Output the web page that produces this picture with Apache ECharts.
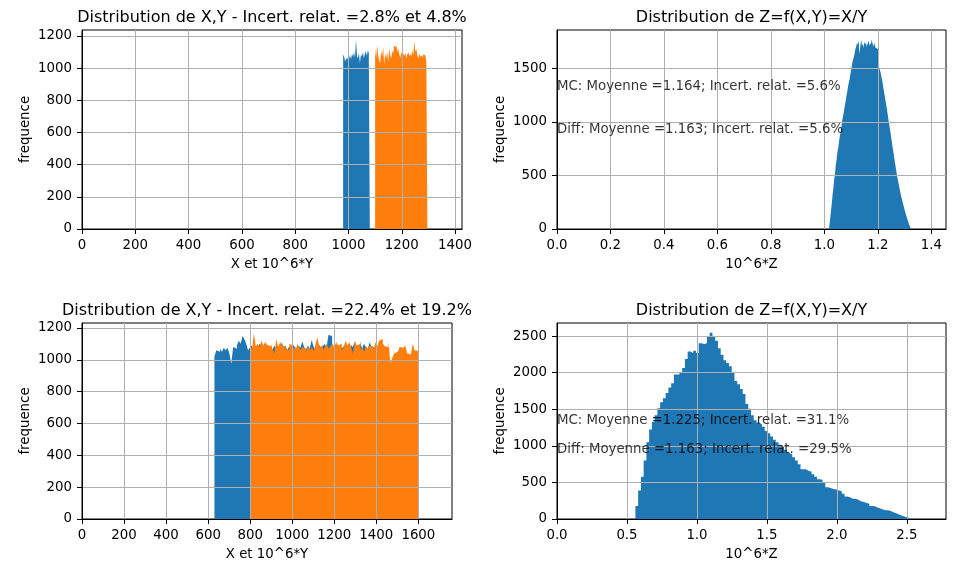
<!DOCTYPE html>
<html><head><meta charset="utf-8">
<script src="https://cdn.jsdelivr.net/npm/echarts@6/dist/echarts.min.js"></script>
<style>html,body{margin:0;padding:0;background:#fff}#c{width:957px;height:562px}</style>
</head><body><div id="c"></div>
<script>
// ---------- data (histogram bin ranges and bin counts) ----------
const tlBlueRange = [980, 1080];
const tlBlueCounts = [1085,1070,1040,1065,1050,1075,1060,1080,1055,1090,1070,1100,1065,1180,1080,1060,1095,1030,1085,1070,1100,1060,1090,1105,1075,1110,1095];
const tlOrangeRange = [1100, 1296];
const tlOrangeCounts = [1120,1060,1140,1080,1050,1030,1110,1070,1130,1020,1090,1060,1100,1040,1120,1080,1060,1110,1090,1140,1130,1150,1100,1120,1090,1060,1100,1080,1090,1070,1095,1060,1085,1100,1075,1090,1070,1110,1080,1170,1100,1120,1080,1060,1090,1070,1080,1060,1085,1080,1070,1040];

const trZRange = [1.0185, 1.3235];
const trZCounts = [30,90,160,230,320,380,460,520,600,650,720,760,820,870,910,960,1020,1060,1100,1150,1190,1240,1280,1330,1370,1400,1450,1490,1540,1580,1600,1640,1680,1700,
1740,1720,1760,1630,1700,1770,1710,1730,1690,1750,1720,1740,1700,1730,1760,1710,1740,1720,1770,1730,1700,1740,1710,1690,1700,1680,1660,
1515,1485,1455,1415,1380,1330,1285,1240,1195,1150,1100,1050,995,950,900,850,795,745,700,645,595,550,500,460,425,385,345,310,280,250,220,190,160,135,110,85,60,40,25];

const blBlueRange = [630, 1430];
const blBlueCounts = [1020,1060,1050,1070,1050,1075,1060,1075,1040,975,1080,1070,1090,1120,1100,1150,1130,1100,1060,
1075,1090,1060,1085,1070,1100,1080,1095,1065,1080,1050,1075,1060,1090,1070,1080,1065,1110,1075,1090,1060,1085,1070,1095,1080,1060,1090,1075,1115,1080,1065,1090,1070,1125,1085,1060,1080,1095,1070,1085,1100,1075,1155,1150,1090,1070,1085,1060,1080,1075,1090,1065,1080,1070,1095,1080,1110,1075,1085,1115,1070,1100,1080,1065,1110,1085,1075,1090,1070,1080,1065];
const blOrangeRange = [800, 1600];
const blOrangeCounts = [1090,1070,1165,1085,1100,1080,1120,1090,1110,1095,1085,1100,1070,1040,1130,1080,1110,1090,1085,1070,1060,1100,1090,1070,1080,1100,1085,1060,1080,1070,1050,1085,1060,1080,1055,1100,1140,1080,1090,1060,1080,1100,1070,1085,1100,1080,1110,1090,1100,1060,1080,1120,1090,1110,1080,1040,1120,1090,1100,1060,1080,1050,1085,1070,1090,1080,1060,1110,1085,1120,1130,1100,1085,1080,1120,980,1010,1040,1050,1050,1080,1075,1075,1090,1040,1035,1040,1100,1060,1055];

const brZRange = [0.56, 2.526];
const brZCounts = [178,389,577,800,1051,1225,1328,1417,1516,1597,1650,1722,1798,1856,1977,1977,2008,2066,2187,2290,2267,2299,2270,2402,2393,2402,2500,2545,2491,2437,2334,2245,2169,2133,2088,1999,1888,1843,1776,1709,1574,1507,1417,1350,1319,1292,1261,1203,1172,1127,1082,1051,1015,993,948,903,881,845,800,747,680,680,657,648,613,577,545,536,501,434,425,411,402,389,380,344,308,299,277,277,264,241,232,219,210,178,174,156,143,129,120,120,107,89,76,58,44,31,22,9];

const tlXTicks = [0,200,400,600,800,1000,1200,1400];
const xyYTicks = [0,200,400,600,800,1000,1200];
const blXTicks = [0,200,400,600,800,1000,1200,1400,1600];
const trXTicks = [0,0.2,0.4,0.6,0.8,1.0,1.2,1.4];
const trYTicks = [0,500,1000,1500];
const brXTicks = [0,0.5,1.0,1.5,2.0,2.5];
const brYTicks = [0,500,1000,1500,2000,2500];

const titles = [
  'Distribution de X,Y - Incert. relat. =2.8% et 4.8%',
  'Distribution de Z=f(X,Y)=X/Y',
  'Distribution de X,Y - Incert. relat. =22.4% et 19.2%',
  'Distribution de Z=f(X,Y)=X/Y'
];
const trNotes = ['MC: Moyenne =1.164; Incert. relat. =5.6%', 'Diff: Moyenne =1.163; Incert. relat. =5.6%'];
const brNotes = ['MC: Moyenne =1.225; Incert. relat. =31.1%', 'Diff: Moyenne =1.163; Incert. relat. =29.5%'];
const noteY = [1300, 900];

// ---------- styling / layout ----------
const FONT = 'DejaVu Sans';
const BLUE = '#1f77b4', ORANGE = '#ff7f0e';
const grids = [
  {left: 82, top: 30, width: 380, height: 199},
  {left: 557, top: 30, width: 389, height: 199},
  {left: 82, top: 323, width: 370, height: 199},
  {left: 557, top: 323, width: 389, height: 199}
];

function hist(range, counts, color, idx) {
  const n = counts.length, w = (range[1] - range[0]) / n;
  const data = counts.map((c, i) => [range[0] + i * w, c]);
  data.push([range[1], counts[n - 1]]);
  return {type: 'line', xAxisIndex: idx, yAxisIndex: idx, data, step: 'end', symbol: 'none',
    lineStyle: {width: 0, opacity: 0}, areaStyle: {color, opacity: 1}, z: 2, silent: true};
}
function notes(texts, idx) {
  return texts.map((t, k) => ({type: 'scatter', xAxisIndex: idx, yAxisIndex: idx, symbolSize: 0, clip: false, z: 20, silent: true,
    data: [[0, noteY[k]]],
    label: {show: true, formatter: t, position: [0, 0], align: 'left', verticalAlign: 'bottom', offset: [0, 3],
      color: '#000', fontFamily: FONT, fontSize: 13.33}}));
}
function axisCommon(ticks, fmt) {
  return {
    type: 'value', min: 0, z: 10,
    axisLine: {show: true, onZero: false, lineStyle: {color: '#000', width: 1}},
    axisTick: {show: true, inside: false, length: 5, lineStyle: {color: '#000', width: 1}, customValues: ticks},
    axisLabel: {color: '#000', fontFamily: FONT, fontSize: 13.33, margin: 10, customValues: ticks, formatter: fmt},
    splitLine: {show: true, lineStyle: {color: '#b0b0b0', width: 1}},
    nameLocation: 'middle',
    nameTextStyle: {color: '#000', fontFamily: FONT, fontSize: 13.33}
  };
}
const intFmt = v => String(Math.round(v));
const dec1 = v => v.toFixed(1);
function xAx(idx, max, ticks, name, fmt) {
  return Object.assign(axisCommon(ticks, fmt), {gridIndex: idx, max, name, nameGap: 29});
}
function yAx(idx, max, ticks) {
  return Object.assign(axisCommon(ticks, intFmt), {gridIndex: idx, max, name: 'frequence', nameGap: 50});
}

const chart = echarts.init(document.getElementById('c'), null, {renderer: 'canvas'});
chart.setOption({
  animation: false,
  backgroundColor: '#fff',
  title: grids.map((g, i) => ({
    text: titles[i], left: g.left + g.width / 2, top: i < 2 ? 10 : 303, textAlign: 'center', padding: 0,
    textStyle: {color: '#000', fontFamily: FONT, fontSize: 16, fontWeight: 'normal'}
  })),
  grid: grids.map(g => Object.assign({show: true, borderColor: '#000', borderWidth: 1, backgroundColor: 'transparent', containLabel: false}, g)),
  xAxis: [
    xAx(0, 1426, tlXTicks, 'X et 10^6*Y', intFmt),
    xAx(1, 1.455, trXTicks, '10^6*Z', dec1),
    xAx(2, 1760, blXTicks, 'X et 10^6*Y', intFmt),
    xAx(3, 2.779, brXTicks, '10^6*Z', dec1)
  ],
  yAxis: [
    yAx(0, 1237, xyYTicks),
    yAx(1, 1857, trYTicks),
    yAx(2, 1231, xyYTicks),
    yAx(3, 2680, brYTicks)
  ],
  series: [
    hist(tlBlueRange, tlBlueCounts, BLUE, 0),
    hist(tlOrangeRange, tlOrangeCounts, ORANGE, 0),
    hist(trZRange, trZCounts, BLUE, 1),
    hist(blBlueRange, blBlueCounts, BLUE, 2),
    hist(blOrangeRange, blOrangeCounts, ORANGE, 2),
    hist(brZRange, brZCounts, BLUE, 3)
  ].concat(notes(trNotes, 1), notes(brNotes, 3))
});
</script>
</body></html>
